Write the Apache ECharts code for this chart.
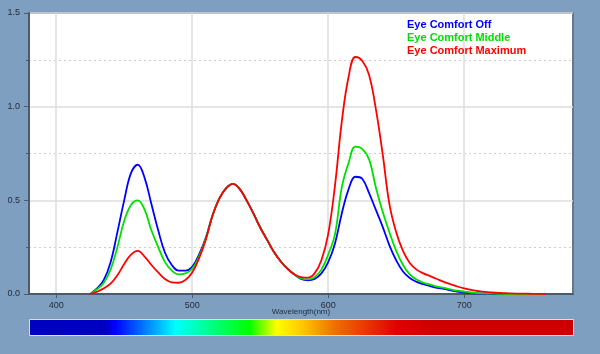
<!DOCTYPE html>
<html>
<head>
<meta charset="utf-8">
<script src="https://cdn.jsdelivr.net/npm/echarts@6/dist/echarts.min.js"></script>
<style>
html,body{margin:0;padding:0;background:#7f9fc1;}
#c{width:600px;height:354px;}
</style>
</head>
<body>
<div id="c"></div>
<script>
// wavelength (nm), 5 nm steps
const wavelengths = [425,430,435,440,445,450,455,460,465,470,475,480,485,490,495,500,505,510,515,520,525,530,535,540,545,550,555,560,565,570,575,580,585,590,595,600,605,610,615,620,625,630,635,640,645,650,655,660,665,670,675,680,685,690,695,700,705,710,715,720,725,730,735,740,745,750,755,760];
const offValues = [0,0.03,0.075,0.17,0.33,0.50,0.645,0.69,0.62,0.48,0.34,0.22,0.155,0.125,0.125,0.145,0.21,0.30,0.42,0.51,0.565,0.588,0.56,0.50,0.43,0.355,0.29,0.225,0.175,0.135,0.105,0.08,0.073,0.08,0.11,0.17,0.27,0.43,0.56,0.626,0.615,0.54,0.45,0.36,0.26,0.18,0.12,0.085,0.065,0.052,0.042,0.033,0.027,0.02,0.013,0.008,0.005,0.003,0.002,0.001,0,0,0,0,0,0,0,0];
const middleValues = [0,0.025,0.06,0.13,0.25,0.39,0.475,0.50,0.45,0.34,0.25,0.17,0.125,0.105,0.11,0.135,0.20,0.295,0.42,0.51,0.565,0.588,0.56,0.50,0.43,0.355,0.29,0.225,0.175,0.135,0.105,0.083,0.078,0.09,0.13,0.21,0.32,0.57,0.70,0.787,0.775,0.72,0.57,0.44,0.33,0.23,0.155,0.105,0.077,0.06,0.05,0.04,0.033,0.025,0.018,0.013,0.008,0.005,0.003,0.002,0.001,0,0,0,0,0,0,0];
const maximumValues = [0,0.012,0.03,0.055,0.10,0.16,0.21,0.23,0.20,0.155,0.115,0.08,0.062,0.06,0.075,0.115,0.19,0.29,0.42,0.51,0.565,0.588,0.56,0.50,0.43,0.355,0.29,0.225,0.175,0.135,0.105,0.09,0.087,0.11,0.18,0.32,0.58,0.92,1.16,1.265,1.245,1.17,0.99,0.75,0.48,0.33,0.23,0.165,0.13,0.11,0.095,0.08,0.065,0.052,0.04,0.03,0.022,0.016,0.011,0.008,0.006,0.004,0.003,0.002,0.0015,0.001,0.0005,0];
const seriesNames = ['Eye Comfort Off','Eye Comfort Middle','Eye Comfort Maximum'];
const seriesColors = ['#0000ff','#00e000','#ff0000'];
const xTicks = [400,500,600,700];
const yTicks = [0,0.5,1.0,1.5];

const pairs = vals => wavelengths.map((w,i)=>[w, vals[i]]);
const allVals = [offValues, middleValues, maximumValues];

const chart = echarts.init(document.getElementById('c'), null, {renderer:'canvas'});
chart.setOption({
  backgroundColor: '#7f9fc1',
  animation: false,
  textStyle: {fontFamily: 'Liberation Sans, Arial, sans-serif'},
  grid: {left: 29, top: 13, right: 27, bottom: 60, show: true, backgroundColor: '#ffffff', borderColor: '#6a7686', borderWidth: 2},
  legend: {
    orient: 'vertical', left: 407, top: 19, itemWidth: 0, itemHeight: 0, itemGap: 2, icon: 'none', padding: 0,
    selectedMode: false,
    data: seriesNames.map((n,i)=>({name: n, textStyle: {color: seriesColors[i], fontWeight: 'bold', fontSize: 11, fontFamily: 'Liberation Sans, Arial, sans-serif', padding: [0,0,0,-5]}}))
  },
  xAxis: {
    type: 'value', min: 380, max: 780,
    name: 'Wavelength(nm)', nameLocation: 'middle', nameGap: 14, nameMoveOverlap: false,
    nameTextStyle: {fontSize: 8, color: '#1e2a3a'},
    axisLine: {show: true, lineStyle: {color: '#4e5a6a', width: 2}},
    axisTick: {show: true, length: 4, customValues: xTicks, lineStyle: {color: '#4e5a6a'}},
    axisLabel: {customValues: xTicks, fontSize: 9, color: '#1e2838', margin: 7},
    splitLine: {show: true, lineStyle: {color: '#dcdcdc', width: 1.5}}
  },
  yAxis: {
    type: 'value', min: 0, max: 1.5, interval: 0.5,
    axisLine: {show: true, lineStyle: {color: '#4e5a6a', width: 2}},
    axisTick: {show: true, length: 5, lineStyle: {color: '#4e5a6a'}},
    minorTick: {show: true, splitNumber: 2, length: 3, lineStyle: {color: '#4e5a6a'}},
    axisLabel: {fontSize: 9, color: '#1e2838', margin: 9, formatter: v => v.toFixed(1)},
    splitLine: {show: true, lineStyle: {color: '#dcdcdc', width: 1.5}},
    minorSplitLine: {show: true, lineStyle: {color: '#cccccc', type: [2,3], width: 1}}
  },
  series: seriesNames.map((n,i)=>({
    name: n, type: 'line', data: pairs(allVals[i]), showSymbol: false, symbol: 'none',
    smooth: 0.4,
    lineStyle: {color: seriesColors[i], width: 1.8}, itemStyle: {color: seriesColors[i]},
    z: 3 + i
  })),
  graphic: [{
    type: 'rect', left: 29, top: 319, shape: {width: 544, height: 16},
    style: {
      stroke: '#d8e2ee', lineWidth: 1,
      fill: new echarts.graphic.LinearGradient(0,0,1,0,[
        {offset:0, color:'#0000c0'},
        {offset:0.14, color:'#0000c4'},
        {offset:0.158, color:'#0000ff'},
        {offset:0.27, color:'#00ffff'},
        {offset:0.404, color:'#00ff00'},
        {offset:0.454, color:'#ffff00'},
        {offset:0.498, color:'#ffcc00'},
        {offset:0.56, color:'#f07000'},
        {offset:0.676, color:'#e00000'},
        {offset:0.743, color:'#cc0000'},
        {offset:1, color:'#cc0000'}
      ])
    }
  }]
});
</script>
</body>
</html>
